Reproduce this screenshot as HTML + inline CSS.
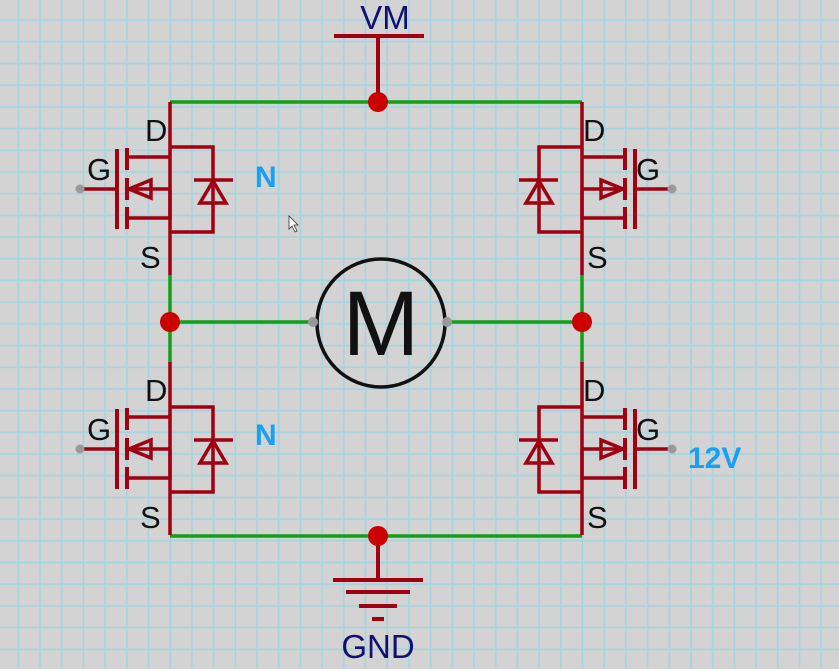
<!DOCTYPE html>
<html><head><meta charset="utf-8"><style>
html,body{margin:0;padding:0;background:#d3d3d3}
svg{display:block}
text{font-family:"Liberation Sans",sans-serif}
</style></head><body>
<svg width="839" height="669" viewBox="0 0 839 669" xmlns="http://www.w3.org/2000/svg">
<defs>
<pattern id="g" x="17.3" y="19" width="21.7" height="21.7" patternUnits="userSpaceOnUse">
<path d="M0 1H21.7M1 0V21.7" stroke="#a3d4e0" stroke-width="1.6" fill="none"/>
</pattern>
<g id="fet" fill="none" stroke="#a00010" stroke-width="3.5">
<path d="M170 102V275"/>
<path d="M170 147H213V232H170"/>
<path d="M170 157H127M170 189H127M170 189V218H127"/>
<path d="M117 149V229" stroke-width="4"/>
<path d="M127 148V170M127 178V200M127 207V229" stroke-width="4"/>
<path d="M80 189H117"/>
<polygon points="129,189 151,180 151,198"/>
<polygon points="213,181 200,203 226,203"/>
<path d="M194 180H233"/>
<circle cx="80" cy="189" r="4.5" fill="#999" stroke="none"/>
</g>
</defs>
<rect width="839" height="669" fill="#d3d3d3"/>
<rect width="839" height="669" fill="url(#g)"/>
<g stroke="#14a014" stroke-width="3.5" fill="none">
<path d="M170 102H582"/>
<path d="M170 536H582"/>
<path d="M170 275V362M582 275V362"/>
<path d="M170 322H313M447 322H582"/>
</g>
<use href="#fet"/>
<use href="#fet" transform="translate(0,260)"/>
<use href="#fet" transform="translate(752,0) scale(-1,1)"/>
<use href="#fet" transform="translate(752,260) scale(-1,1)"/>
<g stroke="#a00010" stroke-width="4" fill="none">
<path d="M334 36H424M378 36V102"/>
<path d="M378 536V580M333 580H423M346 592H410M359 606H397M372 619H384"/>
</g>
<circle cx="378" cy="102" r="10" fill="#cc0000"/>
<circle cx="378" cy="536" r="10" fill="#cc0000"/>
<circle cx="170" cy="322" r="10" fill="#cc0000"/>
<circle cx="582" cy="322" r="10" fill="#cc0000"/>
<circle cx="381" cy="323" r="64" fill="none" stroke="#111" stroke-width="3.5"/>
<circle cx="313" cy="322" r="5" fill="#999"/>
<circle cx="447" cy="322" r="5" fill="#999"/>
<text x="381" y="355" font-size="92" text-anchor="middle" fill="#111">M</text>
<text x="385" y="29" font-size="33" text-anchor="middle" fill="#101070">VM</text>
<text x="378" y="658" font-size="33" text-anchor="middle" fill="#101070">GND</text>
<g font-size="31" fill="#111">
<text x="145" y="141">D</text><text x="87" y="180">G</text><text x="140" y="268">S</text>
<text x="145" y="401">D</text><text x="87" y="440">G</text><text x="140" y="528">S</text>
<text x="583" y="141">D</text><text x="636" y="180">G</text><text x="587" y="268">S</text>
<text x="583" y="401">D</text><text x="636" y="440">G</text><text x="587" y="528">S</text>
</g>
<g font-size="30" font-weight="bold" fill="#1aa0f0">
<text x="255" y="187">N</text>
<text x="255" y="445">N</text>
<text x="688" y="468">12V</text>
</g>
<path d="M289 216L289 229L292 226L295 232L297 231L294 225L298 225Z" fill="#fff" stroke="#333" stroke-width="0.8"/>
</svg>
</body></html>
